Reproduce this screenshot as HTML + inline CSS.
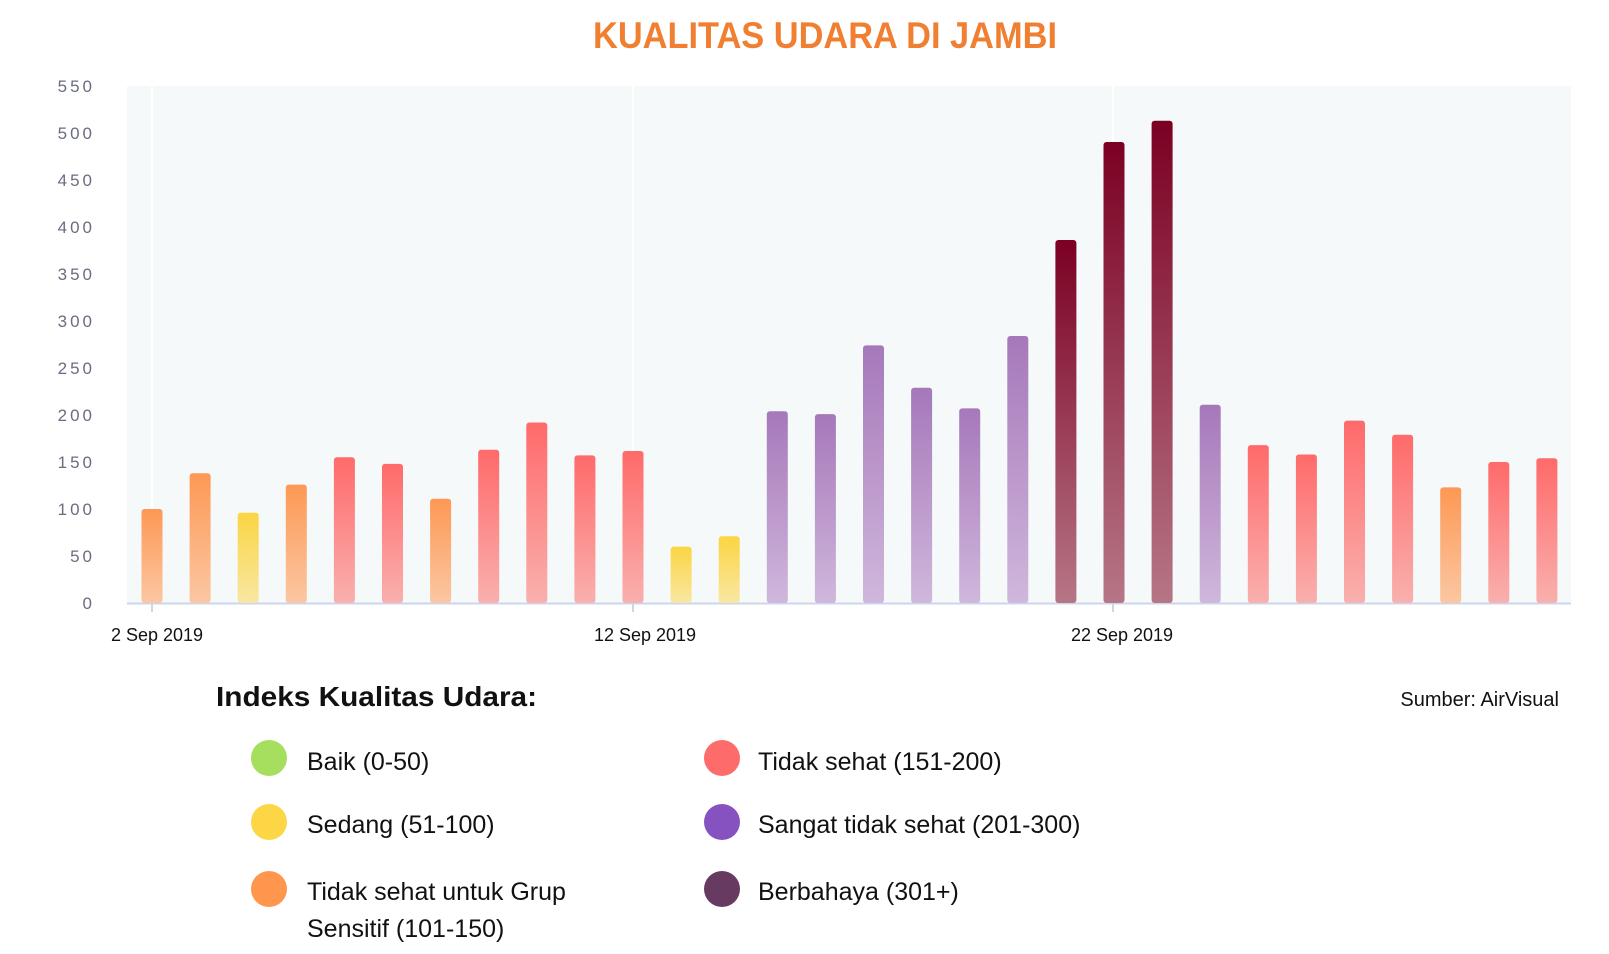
<!DOCTYPE html>
<html><head><meta charset="utf-8"><style>
html,body{margin:0;padding:0;background:#fff;}
svg{display:block;}
</style></head><body>
<svg width="1609" height="954" viewBox="0 0 1609 954" xmlns="http://www.w3.org/2000/svg">
<defs>
<linearGradient id="go" x1="0" y1="0" x2="0" y2="1"><stop offset="0" stop-color="#fd9854"/><stop offset="1" stop-color="#fbc7a2"/></linearGradient>
<linearGradient id="gy" x1="0" y1="0" x2="0" y2="1"><stop offset="0" stop-color="#fbd543"/><stop offset="1" stop-color="#f8e7a2"/></linearGradient>
<linearGradient id="gr" x1="0" y1="0" x2="0" y2="1"><stop offset="0" stop-color="#ff6a6a"/><stop offset="1" stop-color="#f9b0ae"/></linearGradient>
<linearGradient id="gp" x1="0" y1="0" x2="0" y2="1"><stop offset="0" stop-color="#a678ba"/><stop offset="1" stop-color="#d0b7dc"/></linearGradient>
<linearGradient id="gd" x1="0" y1="0" x2="0" y2="1"><stop offset="0" stop-color="#7b0022"/><stop offset="1" stop-color="#b67685"/></linearGradient>
</defs>
<text x="825" y="48" text-anchor="middle" font-family="Liberation Sans, sans-serif" font-weight="bold" font-size="37" fill="#f07f32" textLength="464" lengthAdjust="spacingAndGlyphs">KUALITAS UDARA DI JAMBI</text>
<rect x="127" y="86" width="1444" height="517" fill="#f5f9fa"/>
<line x1="152" y1="86" x2="152" y2="603" stroke="#fff" stroke-width="2"/>
<line x1="633" y1="86" x2="633" y2="603" stroke="#fff" stroke-width="2"/>
<line x1="1113" y1="86" x2="1113" y2="603" stroke="#fff" stroke-width="2"/>
<g font-family="Liberation Sans, sans-serif" font-size="17" fill="#6a6d80" text-anchor="end" letter-spacing="3">
<text x="95" y="92">550</text><text x="95" y="139">500</text><text x="95" y="186">450</text><text x="95" y="233">400</text><text x="95" y="280">350</text><text x="95" y="327">300</text><text x="95" y="374">250</text><text x="95" y="421">200</text><text x="95" y="468">150</text><text x="95" y="515">100</text><text x="95" y="562">50</text><text x="95" y="609">0</text>
</g>
<line x1="127" y1="603.5" x2="1571" y2="603.5" stroke="#ccd6eb" stroke-width="2"/>
<g stroke="#ccd6eb" stroke-width="2"><line x1="152" y1="603" x2="152" y2="612"/><line x1="633" y1="603" x2="633" y2="612"/><line x1="1113" y1="603" x2="1113" y2="612"/></g>
<g font-family="Liberation Sans, sans-serif" font-size="18" fill="#111" text-anchor="middle">
<text x="157" y="641">2 Sep 2019</text><text x="645" y="641">12 Sep 2019</text><text x="1122" y="641">22 Sep 2019</text>
</g>
<text x="216" y="706" font-family="Liberation Sans, sans-serif" font-weight="bold" font-size="28" fill="#111" textLength="321" lengthAdjust="spacingAndGlyphs">Indeks Kualitas Udara:</text>
<text x="1559" y="706" text-anchor="end" font-family="Liberation Sans, sans-serif" font-size="20" fill="#111">Sumber: AirVisual</text>
<g font-family="Liberation Sans, sans-serif" font-size="25" fill="#111">
<circle cx="269" cy="758" r="18" fill="#a6de5d"/><text x="307" y="770">Baik (0-50)</text>
<circle cx="269" cy="822" r="18" fill="#fdd646"/><text x="307" y="833">Sedang (51-100)</text>
<circle cx="269" cy="889" r="18" fill="#fe964e"/><text x="307" y="900">Tidak sehat untuk Grup</text><text x="307" y="937">Sensitif (101-150)</text>
<circle cx="722" cy="758" r="18" fill="#fe6b6b"/><text x="758" y="770">Tidak sehat (151-200)</text>
<circle cx="722" cy="822" r="18" fill="#8552bf"/><text x="758" y="833">Sangat tidak sehat (201-300)</text>
<circle cx="722" cy="889" r="18" fill="#673a62"/><text x="758" y="900">Berbahaya (301+)</text>
</g>
<g>
<rect x="141.5" y="509" width="21" height="94" rx="3" fill="url(#go)"/>
<rect x="189.6" y="473.3" width="21" height="129.7" rx="3" fill="url(#go)"/>
<rect x="237.7" y="512.8" width="21" height="90.2" rx="3" fill="url(#gy)"/>
<rect x="285.8" y="484.6" width="21" height="118.4" rx="3" fill="url(#go)"/>
<rect x="333.9" y="457.3" width="21" height="145.7" rx="3" fill="url(#gr)"/>
<rect x="382" y="463.9" width="21" height="139.1" rx="3" fill="url(#gr)"/>
<rect x="430.1" y="498.7" width="21" height="104.3" rx="3" fill="url(#go)"/>
<rect x="478.2" y="449.8" width="21" height="153.2" rx="3" fill="url(#gr)"/>
<rect x="526.3" y="422.5" width="21" height="180.5" rx="3" fill="url(#gr)"/>
<rect x="574.4" y="455.4" width="21" height="147.6" rx="3" fill="url(#gr)"/>
<rect x="622.5" y="451" width="21" height="152" rx="3" fill="url(#gr)"/>
<rect x="670.6" y="546.6" width="21" height="56.4" rx="3" fill="url(#gy)"/>
<rect x="718.7" y="536.3" width="21" height="66.7" rx="3" fill="url(#gy)"/>
<rect x="766.8" y="411.2" width="21" height="191.8" rx="3" fill="url(#gp)"/>
<rect x="814.9" y="414.1" width="21" height="188.9" rx="3" fill="url(#gp)"/>
<rect x="863" y="345.4" width="21" height="257.6" rx="3" fill="url(#gp)"/>
<rect x="911.1" y="387.7" width="21" height="215.3" rx="3" fill="url(#gp)"/>
<rect x="959.2" y="408.4" width="21" height="194.6" rx="3" fill="url(#gp)"/>
<rect x="1007.3" y="336" width="21" height="267" rx="3" fill="url(#gp)"/>
<rect x="1055.4" y="240" width="21" height="363" rx="3" fill="url(#gd)"/>
<rect x="1103.5" y="142" width="21" height="461" rx="3" fill="url(#gd)"/>
<rect x="1151.6" y="120.8" width="21" height="482.2" rx="3" fill="url(#gd)"/>
<rect x="1199.7" y="404.7" width="21" height="198.3" rx="3" fill="url(#gp)"/>
<rect x="1247.8" y="445.1" width="21" height="157.9" rx="3" fill="url(#gr)"/>
<rect x="1295.9" y="454.5" width="21" height="148.5" rx="3" fill="url(#gr)"/>
<rect x="1344" y="420.6" width="21" height="182.4" rx="3" fill="url(#gr)"/>
<rect x="1392.1" y="434.7" width="21" height="168.3" rx="3" fill="url(#gr)"/>
<rect x="1440.2" y="487.4" width="21" height="115.6" rx="3" fill="url(#go)"/>
<rect x="1488.3" y="462" width="21" height="141" rx="3" fill="url(#gr)"/>
<rect x="1536.4" y="458.2" width="21" height="144.8" rx="3" fill="url(#gr)"/>
</g>
</svg>
</body></html>
